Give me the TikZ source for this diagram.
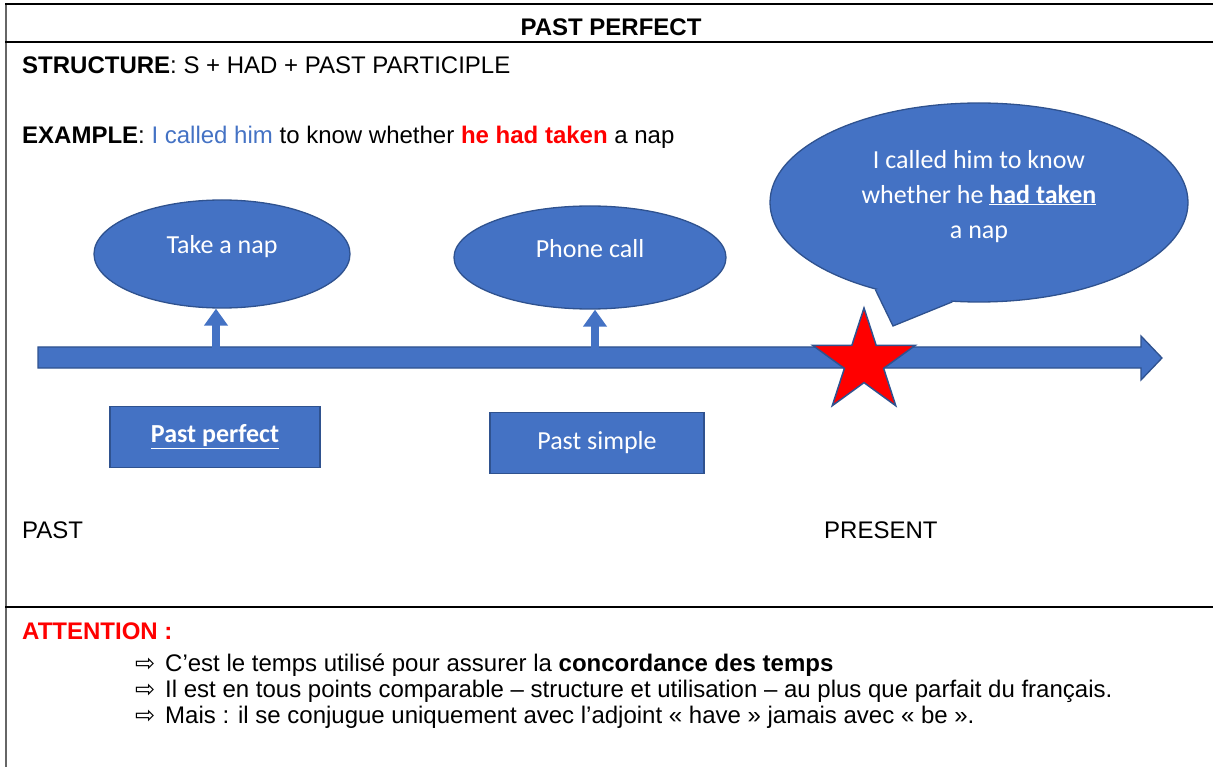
\documentclass[tikz,border=0pt]{standalone}
\usepackage{fontspec}
\setmainfont{Liberation Sans}
\newfontfamily\calibri{Carlito}
\newfontfamily\symbfont{DejaVu Sans}
\usepackage{xcolor}
\usetikzlibrary{shapes,arrows.meta,positioning}
\definecolor{shapeblue}{HTML}{4472C4}
\definecolor{shapeedge}{HTML}{2F528F}

\begin{document}
\begin{tikzpicture}[
  x=1pt, y=-1pt,
  txt/.style={anchor=base west, inner sep=0pt, font=\fontsize{24}{26}\selectfont},
  pointer/.style={anchor=base west, inner sep=0pt, font=\symbfont\fontsize{24}{26}\selectfont},
  bubble/.style={ellipse, draw=shapeedge, fill=shapeblue, line width=1.3pt, inner sep=0pt, text=white, align=center, font=\calibri\fontsize{26}{35}\selectfont},
  box/.style={rectangle, draw=shapeedge, fill=shapeblue, line width=1.5pt, inner sep=0pt, text=white, font=\calibri\fontsize{26}{30}\selectfont},
  uparrow/.style={-{Triangle[width=23pt,length=17pt]}, line width=8pt, shapeblue},
  rule/.style={line width=2pt}
]
\useasboundingbox (0,0) rectangle (1213,767);

\draw[line width=1.2pt, black!60] (6,3) -- (6,767);
\draw[line width=2.5pt] (5,4) -- (1213,4);
\draw[rule] (5,42) -- (1213,42);
\draw[rule] (5,607) -- (1213,607);

\node[anchor=base, inner sep=0pt, font=\bfseries\fontsize{24}{26}\selectfont] (title) at (611,36) {PAST PERFECT};
\node[txt] (structure) at (22,74) {\textbf{STRUCTURE}: S + HAD + PAST PARTICIPLE};
\node[txt] (example) at (22,144) {\textbf{EXAMPLE}: \textcolor{shapeblue}{I called him} to know whether \textcolor{red}{\textbf{he had taken}} a nap};

\node[bubble, minimum width=256pt, minimum height=108pt, text height=20pt, text depth=20pt] (nap) at (222,254) {Take a nap};
\node[bubble, minimum width=272pt, minimum height=103pt, text height=20pt, text depth=20pt] (call) at (590,257.5) {Phone call};
\node[bubble, minimum width=418pt, minimum height=199pt, text depth=17pt] (say) at (979,202.5) {I called him to know\\whether he \underline{\textbf{had taken}}\\a nap};
\coordinate (tail) at (893,326);
\fill[shapeblue] (say.220) -- (tail) -- (say.255) -- (930,282) -- cycle;
\draw[shapeedge, line width=1.3pt, line join=miter] (say.220) -- (tail) -- (say.255);

\draw[draw=shapeedge, fill=shapeblue, line width=1.3pt] (38,347) -- (1141,347) -- (1141,336) -- (1162,358) -- (1141,380) -- (1141,368) -- (38,368) -- cycle;
\coordinate (napfoot) at (216,348);
\coordinate (callfoot) at (595,348);
\draw[uparrow] (napfoot) -- (napfoot |- nap.south);
\draw[uparrow] (callfoot) -- (callfoot |- call.south);

\node[star, star points=5, star point ratio=2.618, minimum size=108pt, inner sep=0pt, draw=shapeedge, fill=red, line width=1.5pt] (now) at (864,362) {};

\node[box, minimum width=210pt, minimum height=61pt] (perfect) at (215,437) {\underline{\textbf{Past perfect}}};
\node[box, minimum width=214pt, minimum height=61pt] (simple) at (597,443) {Past simple};

\node[txt] (past) at (22,538) {PAST};
\node[txt] (present) at (824,538) {PRESENT};

\node[txt, text=red, font=\bfseries\fontsize{24}{26}\selectfont] (attn) at (22,639) {ATTENTION :};
\node[pointer] (p1) at (135,671) {⇨};
\node[txt] (l1) at (165,671) {C’est le temps utilisé pour assurer la \textbf{concordance des temps}};
\node[pointer] (p2) at (135,697) {⇨};
\node[txt] (l2) at (165,697) {Il est en tous points comparable – structure et utilisation – au plus que parfait du français.};
\node[pointer] (p3) at (135,723) {⇨};
\node[txt] (l3) at (165,723) {Mais : il se conjugue uniquement avec l’adjoint « have » jamais avec « be ».};
\end{tikzpicture}
\end{document}
